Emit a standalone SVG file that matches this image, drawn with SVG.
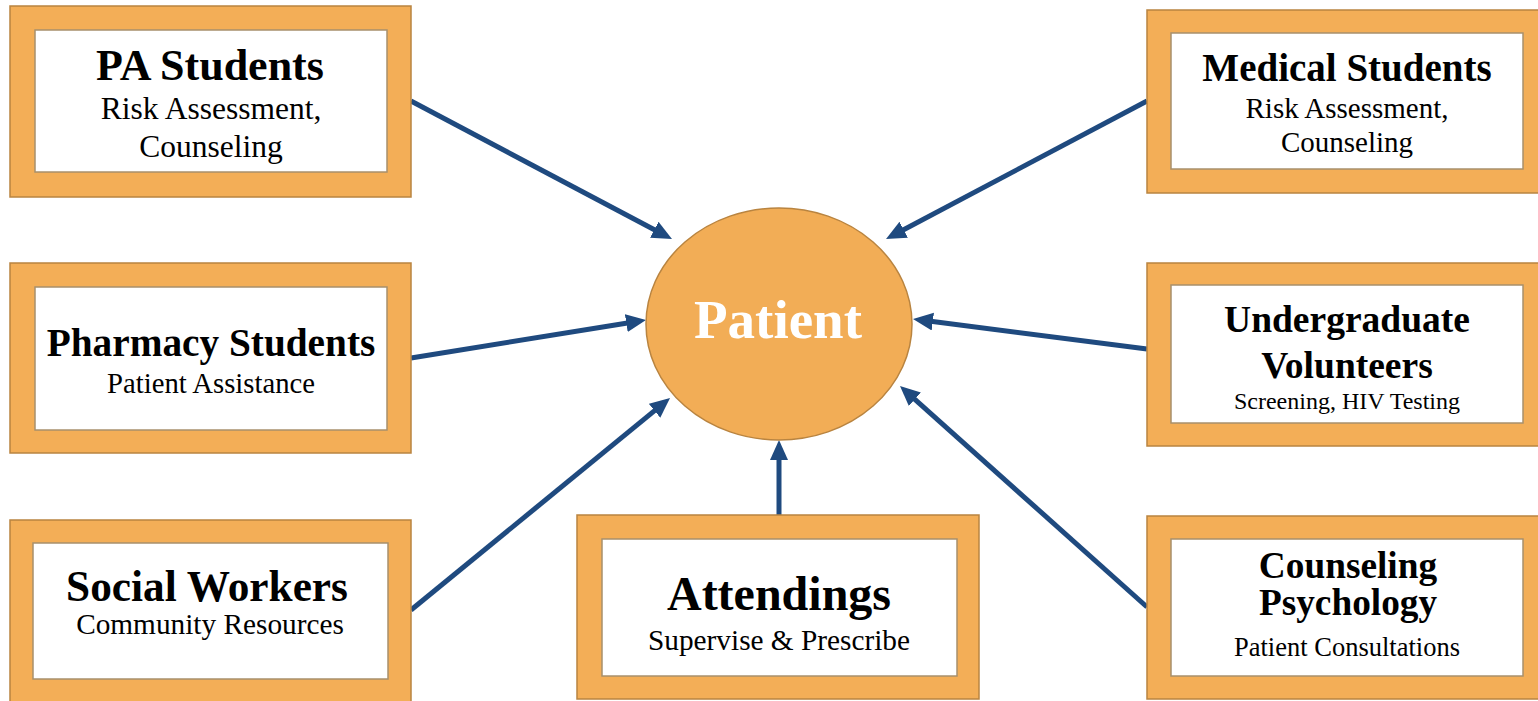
<svg xmlns="http://www.w3.org/2000/svg" width="1538" height="701" viewBox="0 0 1538 701">
  <defs>
    <style>
      .frame { fill: #F3AE57; stroke: #B98440; stroke-width: 1.5; }
      .card { fill: #FFFFFF; stroke: #A8906C; stroke-width: 1.5; }
      .title { font-family: "Liberation Serif", "Times New Roman", serif; font-weight: bold; fill: #000; text-anchor: middle; }
      .sub { font-family: "Liberation Serif", "Times New Roman", serif; fill: #000; text-anchor: middle; }
      .link { stroke: #1F4A7F; stroke-width: 5; fill: none; marker-end: url(#head); }
    </style>
    <marker id="head" markerUnits="userSpaceOnUse" markerWidth="22" markerHeight="20" refX="6" refY="9" orient="auto">
      <path d="M0,0 L20,9 L0,18 Z" fill="#1F4A7F"/>
    </marker>
  </defs>

  <rect width="1538" height="701" fill="#FFFFFF"/>

  <!-- connectors -->
  <g id="connectors">
    <line class="link" x1="411" y1="101" x2="659.6" y2="232.5"/>
    <line class="link" x1="1147" y1="101" x2="898.4" y2="232.5"/>
    <line class="link" x1="411" y1="358" x2="632.2" y2="322.2"/>
    <line class="link" x1="1147" y1="349" x2="926.9" y2="320.8"/>
    <line class="link" x1="411" y1="610" x2="659.2" y2="406.9"/>
    <line class="link" x1="1147" y1="607" x2="910.4" y2="395.3"/>
    <line class="link" x1="779" y1="516" x2="779" y2="454"/>
  </g>

  <!-- central node -->
  <g id="patient">
    <ellipse cx="779" cy="324" rx="133" ry="116" fill="#F2AD56" stroke="#B98440" stroke-width="1.5"/>
    <text x="778" y="338" font-family="'Liberation Serif', 'Times New Roman', serif" font-weight="bold" font-size="55" fill="#FFFFFF" text-anchor="middle">Patient</text>
  </g>

  <g id="pa-students">
    <rect class="frame" x="10" y="6" width="401" height="191"/>
    <rect class="card" x="35" y="30" width="352" height="142"/>
    <text class="title" x="210" y="80" font-size="44">PA Students</text>
    <text class="sub" x="211" y="119" font-size="31.5">Risk Assessment,</text>
    <text class="sub" x="211" y="157" font-size="31.5">Counseling</text>
  </g>

  <g id="medical-students">
    <rect class="frame" x="1147" y="10" width="392" height="183"/>
    <rect class="card" x="1171" y="33" width="352" height="136"/>
    <text class="title" x="1347" y="81" font-size="39">Medical Students</text>
    <text class="sub" x="1347" y="118" font-size="29">Risk Assessment,</text>
    <text class="sub" x="1347" y="152" font-size="29">Counseling</text>
  </g>

  <g id="pharmacy-students">
    <rect class="frame" x="10" y="263" width="401" height="190"/>
    <rect class="card" x="35" y="287" width="352" height="143"/>
    <text class="title" x="211" y="356" font-size="39.3">Pharmacy Students</text>
    <text class="sub" x="211" y="393" font-size="28.7">Patient Assistance</text>
  </g>

  <g id="undergraduate-volunteers">
    <rect class="frame" x="1147" y="263" width="392" height="183"/>
    <rect class="card" x="1171" y="285" width="352" height="138"/>
    <text class="title" x="1347" y="332" font-size="37.5">Undergraduate</text>
    <text class="title" x="1347" y="378" font-size="37.5">Volunteers</text>
    <text class="sub" x="1347" y="409" font-size="24">Screening, HIV Testing</text>
  </g>

  <g id="social-workers">
    <rect class="frame" x="10" y="520" width="401" height="190"/>
    <rect class="card" x="33" y="543" width="355" height="136"/>
    <text class="title" x="207" y="601" font-size="43.3">Social Workers</text>
    <text class="sub" x="210" y="634" font-size="29.3">Community Resources</text>
  </g>

  <g id="attendings">
    <rect class="frame" x="577" y="515" width="402" height="184"/>
    <rect class="card" x="602" y="539" width="355" height="137"/>
    <text class="title" x="779" y="610" font-size="48">Attendings</text>
    <text class="sub" x="779" y="650" font-size="29.3">Supervise &amp; Prescribe</text>
  </g>

  <g id="counseling-psychology">
    <rect class="frame" x="1147" y="516" width="392" height="183"/>
    <rect class="card" x="1171" y="539" width="352" height="137"/>
    <text class="title" x="1348" y="578" font-size="37.3">Counseling</text>
    <text class="title" x="1348" y="615" font-size="37.3">Psychology</text>
    <text class="sub" x="1347" y="656" font-size="26.5">Patient Consultations</text>
  </g>
</svg>
